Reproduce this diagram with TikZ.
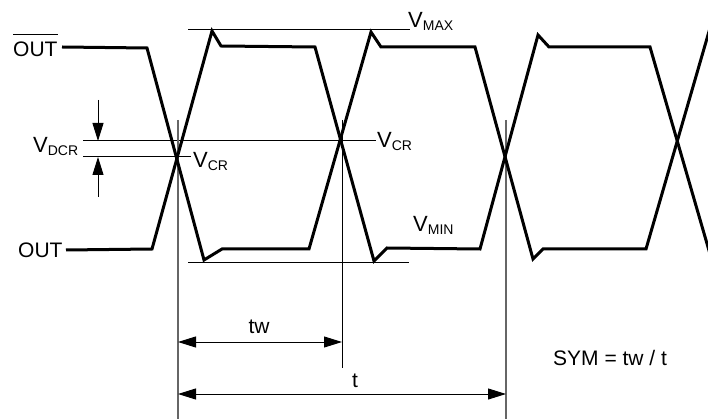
\documentclass[tikz,border=0pt]{standalone}
\usepackage{fontspec}
\setmainfont{Liberation Sans}
\usetikzlibrary{arrows.meta}
\newcommand\vlab[1]{V\raisebox{-2.5pt}{\fontsize{14}{14}\selectfont #1}}
\begin{document}
\begin{tikzpicture}[x=1pt,y=-1pt,
  wave/.style={line width=3pt, black},
  thinline/.style={line width=1pt, black},
  guide/.style={line width=1.3pt, black!60},
  tip/.tip={Triangle[length=18pt,width=11pt]},
  dimarrow/.style={line width=1pt, tip-tip},
  onearrow/.style={line width=1pt, -tip},
  lbl/.style={inner sep=0pt, font=\fontsize{21}{25}\selectfont},
  vl/.style={inner sep=0pt, font=\fontsize{22}{26}\selectfont, anchor=base west},
]
\useasboundingbox (0,0) rectangle (708,419);

% labels
\node[lbl, anchor=base west] (obar) at (13,57) {OUT};
\draw[line width=1.2pt] ([yshift=7.5pt]obar.north west) -- ([yshift=7.5pt]obar.north east);
\node[lbl, anchor=base west] (out) at (18,258) {OUT};
\node[vl] (vdcr) at (33,153) {\vlab{DCR}};
\node[vl] (vcra) at (193,168) {\vlab{CR}};
\node[vl] (vcrb) at (377,148) {\vlab{CR}};
\node[vl] (vmax) at (408,28) {\vlab{MAX}};
\node[vl] (vmin) at (413,232) {\vlab{MIN}};
\node[lbl, anchor=base] (tw) at (259,333) {tw};
\node[lbl, anchor=base] (t) at (355,387) {t};
\node[lbl, anchor=base west] (sym) at (553,365) {SYM = tw / t};

% reference lines
\coordinate (maxl) at (188,30);
\coordinate (maxr) at (410,30);
\coordinate (minl) at (188,262);
\coordinate (minr) at (409,262);
\draw[thinline] (maxl) -- (maxr);
\draw[thinline] (minl) -- (minr);
\coordinate (upl) at (83,141);
\coordinate (upr) at (376,141);
\coordinate (lol) at (83,157);
\coordinate (lor) at (191,157);
\draw[thinline] (upl) -- (upr);
\draw[thinline] (lol) -- (lor);

% verticals
\coordinate (va1) at (178,120); \coordinate (va2) at (178,419);
\coordinate (vb1) at (342,120); \coordinate (vb2) at (342,368);
\coordinate (vc1) at (506,120); \coordinate (vc2) at (506,419);
\draw[guide] (va1) -- (va2);
\draw[thinline] (vb1) -- (vb2);
\draw[guide] (vc1) -- (vc2);

% VDCR arrows
\coordinate (da1) at (98,100); \coordinate (da2) at (98,141);
\coordinate (db1) at (98,197); \coordinate (db2) at (98,157);
\draw[onearrow] (da1) -- (da2);
\draw[onearrow] (db1) -- (db2);

% dimension arrows
\coordinate (twl) at (178,342); \coordinate (twr) at (342,342);
\coordinate (tl) at (178,394); \coordinate (tr) at (506,394);
\draw[dimarrow] (twl) -- (twr);
\draw[dimarrow] (tl) -- (tr);

% waveforms
\draw[wave] (62,47) -- (147,48) -- (204,260) -- (222,249) -- (309,249) -- (371,32) -- (381,47) -- (475,47) -- (533,259) -- (543,249) -- (646,249) -- (710,28);
\draw[wave] (66,250) -- (152,249) -- (212,31) -- (221,46) -- (315,47) -- (374,261) -- (387,248) -- (480,249) -- (538,35) -- (549,47) -- (650,47) -- (710,254);
\end{tikzpicture}
\end{document}
